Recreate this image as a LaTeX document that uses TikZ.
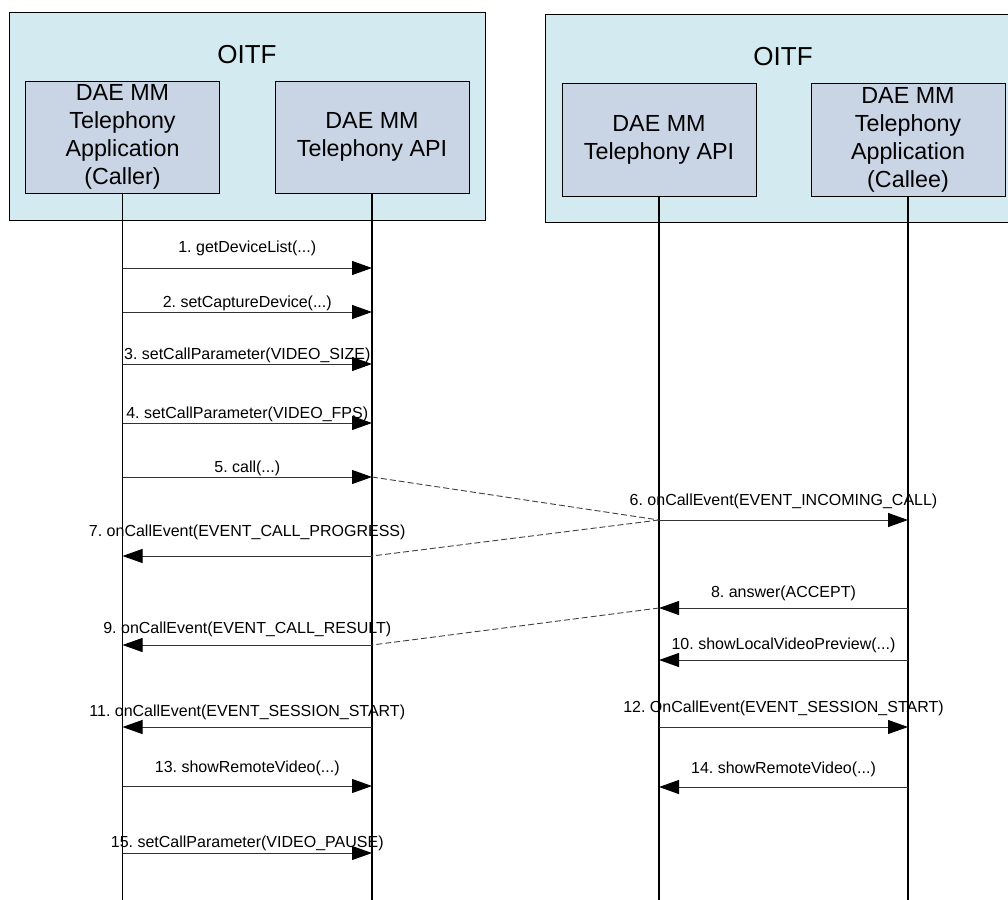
\documentclass[tikz,border=0pt]{standalone}
\usepackage{fontspec}
\setmainfont{Liberation Sans}
\usepackage{tikz}
\usetikzlibrary{arrows.meta}
\definecolor{oitfblue}{RGB}{211,234,240}
\definecolor{headblue}{RGB}{201,213,229}
\frenchspacing

\begin{document}
\begin{tikzpicture}[x=1pt, y=-1pt,
        oitf/.style={draw, fill=oitfblue, line width=0.8pt, minimum width=476pt, minimum height=208pt},
        headbox/.style={draw, fill=headblue, line width=0.8pt, inner sep=2pt, minimum width=194pt, minimum height=112pt, align=center, font=\fontsize{23.3}{28}\selectfont},
        life/.style={line width=1.6pt},
        msg/.style={line width=1pt, draw=black!80, -{Triangle[length=20pt,width=14pt,color=black]}},
        relay/.style={line width=0.9pt, draw=black!75, dash pattern=on 6pt off 3pt},
        lbl/.style={font=\fontsize{16}{19}\selectfont, inner sep=0pt}]
        \useasboundingbox (0,0) rectangle (1008,899);
        \clip (0,0) rectangle (1008,899);

        % the two terminals
        \node[oitf] (oitfL) at (247,116) {};
        \node[oitf] (oitfR) at (783,118) {};
        \node[font=\fontsize{26}{30}\selectfont] (oitfLtxt) at (247,55) {OITF};
        \node[font=\fontsize{26}{30}\selectfont] (oitfRtxt) at (783,57) {OITF};

        \node[headbox] (appL) at (122.5,137) {DAE MM\\Telephony\\Application\\(Caller)};
        \node[headbox] (apiL) at (372,137) {DAE MM\\Telephony API};
        \node[headbox, minimum height=113pt] (apiR) at (659,139.5) {DAE MM\\Telephony API};
        \node[headbox, minimum height=113pt] (appR) at (908,139.5) {DAE MM\\Telephony\\Application\\(Callee)};

        % lifelines
        \foreach \n in {appL,apiL,apiR,appR} {
            \coordinate (\n-end) at (\n |- 0,905);
            \draw[life] (\n.south) -- (\n-end);
        }

        % messages
        \draw[msg] (appL |- 0,268) -- (apiL |- 0,268) node[lbl, midway, yshift=20pt] (m1) {1. getDeviceList(...)};
        \draw[msg] (appL |- 0,312) -- (apiL |- 0,312) node[lbl, midway, yshift=9pt] (m2) {2. setCaptureDevice(...)};
        \draw[msg] (appL |- 0,364) -- (apiL |- 0,364) node[lbl, midway, yshift=9pt] (m3) {3. setCallParameter(VIDEO\_SIZE)};
        \draw[msg] (appL |- 0,423) -- (apiL |- 0,423) node[lbl, midway, yshift=9pt] (m4) {4. setCallParameter(VIDEO\_FPS)};
        \draw[msg] (appL |- 0,477) -- (apiL |- 0,477) node[lbl, midway, yshift=9pt] (m5) {5. call(...)};
        \draw[msg] (apiR |- 0,520) -- (appR |- 0,520) node[lbl, midway, yshift=19pt] (m6) {6. onCallEvent(EVENT\_INCOMING\_CALL)};
        \draw[msg] (apiL |- 0,556) -- (appL |- 0,556) node[lbl, midway, yshift=24pt] (m7) {7. onCallEvent(EVENT\_CALL\_PROGRESS)};
        \draw[msg] (appR |- 0,608) -- (apiR |- 0,608) node[lbl, midway, yshift=15pt] (m8) {8. answer(ACCEPT)};
        \draw[msg] (apiL |- 0,645) -- (appL |- 0,645) node[lbl, midway, yshift=16pt] (m9) {9. onCallEvent(EVENT\_CALL\_RESULT)};
        \draw[msg] (appR |- 0,660) -- (apiR |- 0,660) node[lbl, midway, yshift=15pt] (m10) {10. showLocalVideoPreview(...)};
        \draw[msg] (apiL |- 0,727) -- (appL |- 0,727) node[lbl, midway, yshift=15pt] (m11) {11. onCallEvent(EVENT\_SESSION\_START)};
        \draw[msg] (apiR |- 0,727) -- (appR |- 0,727) node[lbl, midway, yshift=19pt] (m12) {12. OnCallEvent(EVENT\_SESSION\_START)};
        \draw[msg] (appL |- 0,786) -- (apiL |- 0,786) node[lbl, midway, yshift=18pt] (m13) {13. showRemoteVideo(...)};
        \draw[msg] (appR |- 0,787) -- (apiR |- 0,787) node[lbl, midway, yshift=18pt] (m14) {14. showRemoteVideo(...)};
        \draw[msg] (appL |- 0,853) -- (apiL |- 0,853) node[lbl, midway, yshift=10pt] (m15) {15. setCallParameter(VIDEO\_PAUSE)};

        % network hops between the two terminals
        \draw[relay] (apiL |- 0,477) -- (apiR |- 0,520);
        \draw[relay] (apiR |- 0,520) -- (apiL |- 0,556);
        \draw[relay] (apiR |- 0,608) -- (apiL |- 0,645);
    \end{tikzpicture}
\end{document}
